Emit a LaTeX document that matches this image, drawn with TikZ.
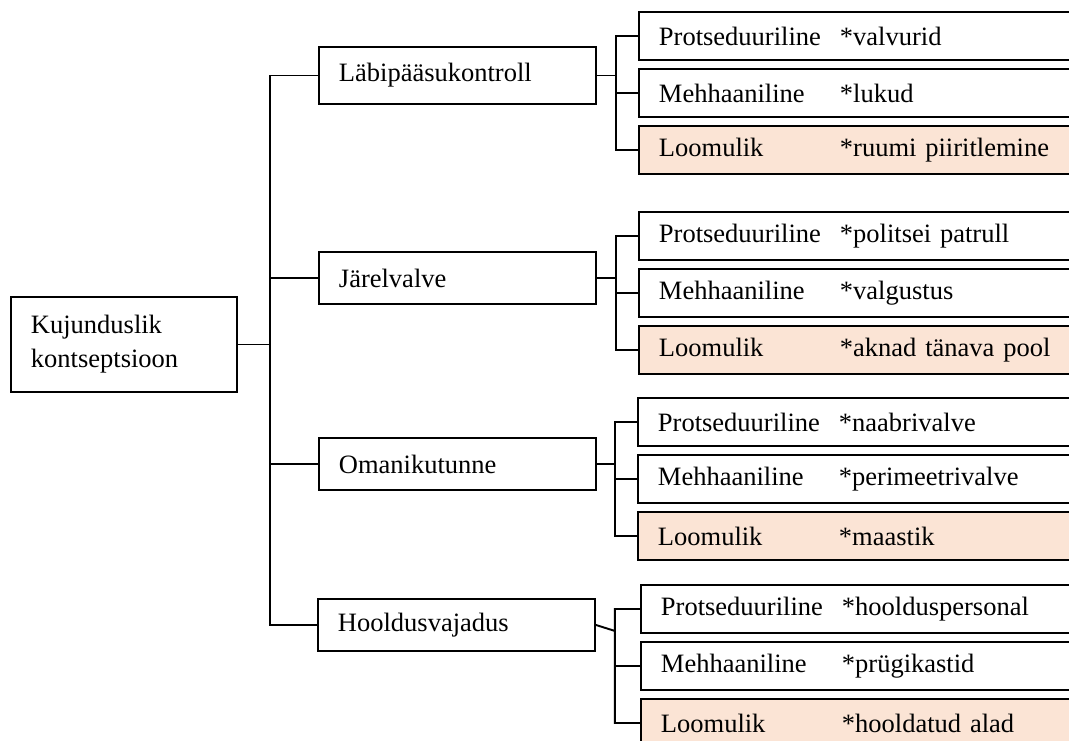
\documentclass[tikz,border=0pt]{standalone}
\usepackage{fontspec}
\setmainfont{Liberation Serif}
\definecolor{peach}{HTML}{FBE4D5}
\tikzset{
	box/.style={draw, anchor=north west, inner xsep=20pt, inner ysep=0pt, align=left, font=\fontsize{26.5}{34}\selectfont},
	mid/.style={box, text width=237pt, minimum height=52pt},
	leaf/.style={box, text width=420pt, minimum height=48pt},
	nat/.style={leaf, fill=peach},
}
\newcommand{\kind}[2]{\makebox[181pt][l]{#1}#2}
\begin{document}
\begin{tikzpicture}[x=1pt, y=-1pt, line width=1.9pt]
			\useasboundingbox (0,0) rectangle (1069,740);
			\clip (0,0) rectangle (1069,740);
			\draw 
			(10,296) node[box, text width=186pt, minimum height=95pt](K){Kujunduslik\\kontseptsioon}
			(318,46) node[mid, minimum height=57pt](A){Läbipääsukontroll}
			(318,251) node[mid](B){Järelvalve}
			(318,437) node[mid](C){Omanikutunne}
			(317,598) node[mid](D){Hooldusvajadus};
			\draw 
			(638,11) node[leaf](A1){\kind{Protseduuriline}{*valvurid}}
			(638,68) node[leaf](A2){\kind{Mehhaaniline}{*lukud}}
			(638,125) node[nat](A3){\kind{Loomulik}{*ruumi piiritlemine}}
			(638,211) node[leaf](B1){\kind{Protseduuriline}{*politsei patrull}}
			(638,268) node[leaf](B2){\kind{Mehhaaniline}{*valgustus}}
			(638,325) node[nat](B3){\kind{Loomulik}{*aknad tänava pool}}
			(637,397) node[leaf](C1){\kind{Protseduuriline}{*naabrivalve}}
			(637,454) node[leaf](C2){\kind{Mehhaaniline}{*perimeetrivalve}}
			(637,511) node[nat](C3){\kind{Loomulik}{*maastik}}
			(640,584) node[leaf](D1){\kind{Protseduuriline}{*hoolduspersonal}}
			(640,641) node[leaf](D2){\kind{Mehhaaniline}{*prügikastid}}
			(640,698) node[nat](D3){\kind{Loomulik}{*hooldatud alad}};
			
			\path (K.east) ++(32,0) coordinate(T)
			(A.east) ++(19,0) coordinate(a)
			(B.east) ++(19,0) coordinate(b)
			(C.east) ++(18,0) coordinate(c)
			(D.east) ++(19,6) coordinate(d);
			
			\draw (K.east) -- (T);
			\foreach \n in {A,B,C,D} \draw (T) |- (\n.west);
			
			\draw (A.east) -- (a) |- (A1.west) (a) |- (A2.west) (a) |- (A3.west);
			\draw (B.east) -- (b) |- (B1.west) (b) |- (B2.west) (b) |- (B3.west);
			\draw (C.east) -- (c) |- (C1.west) (c) |- (C2.west) (c) |- (C3.west);
			\draw (D.east) -- (d) |- (D1.west) (d) |- (D2.west) (d) |- (D3.west);
			
\end{tikzpicture}
\end{document}
